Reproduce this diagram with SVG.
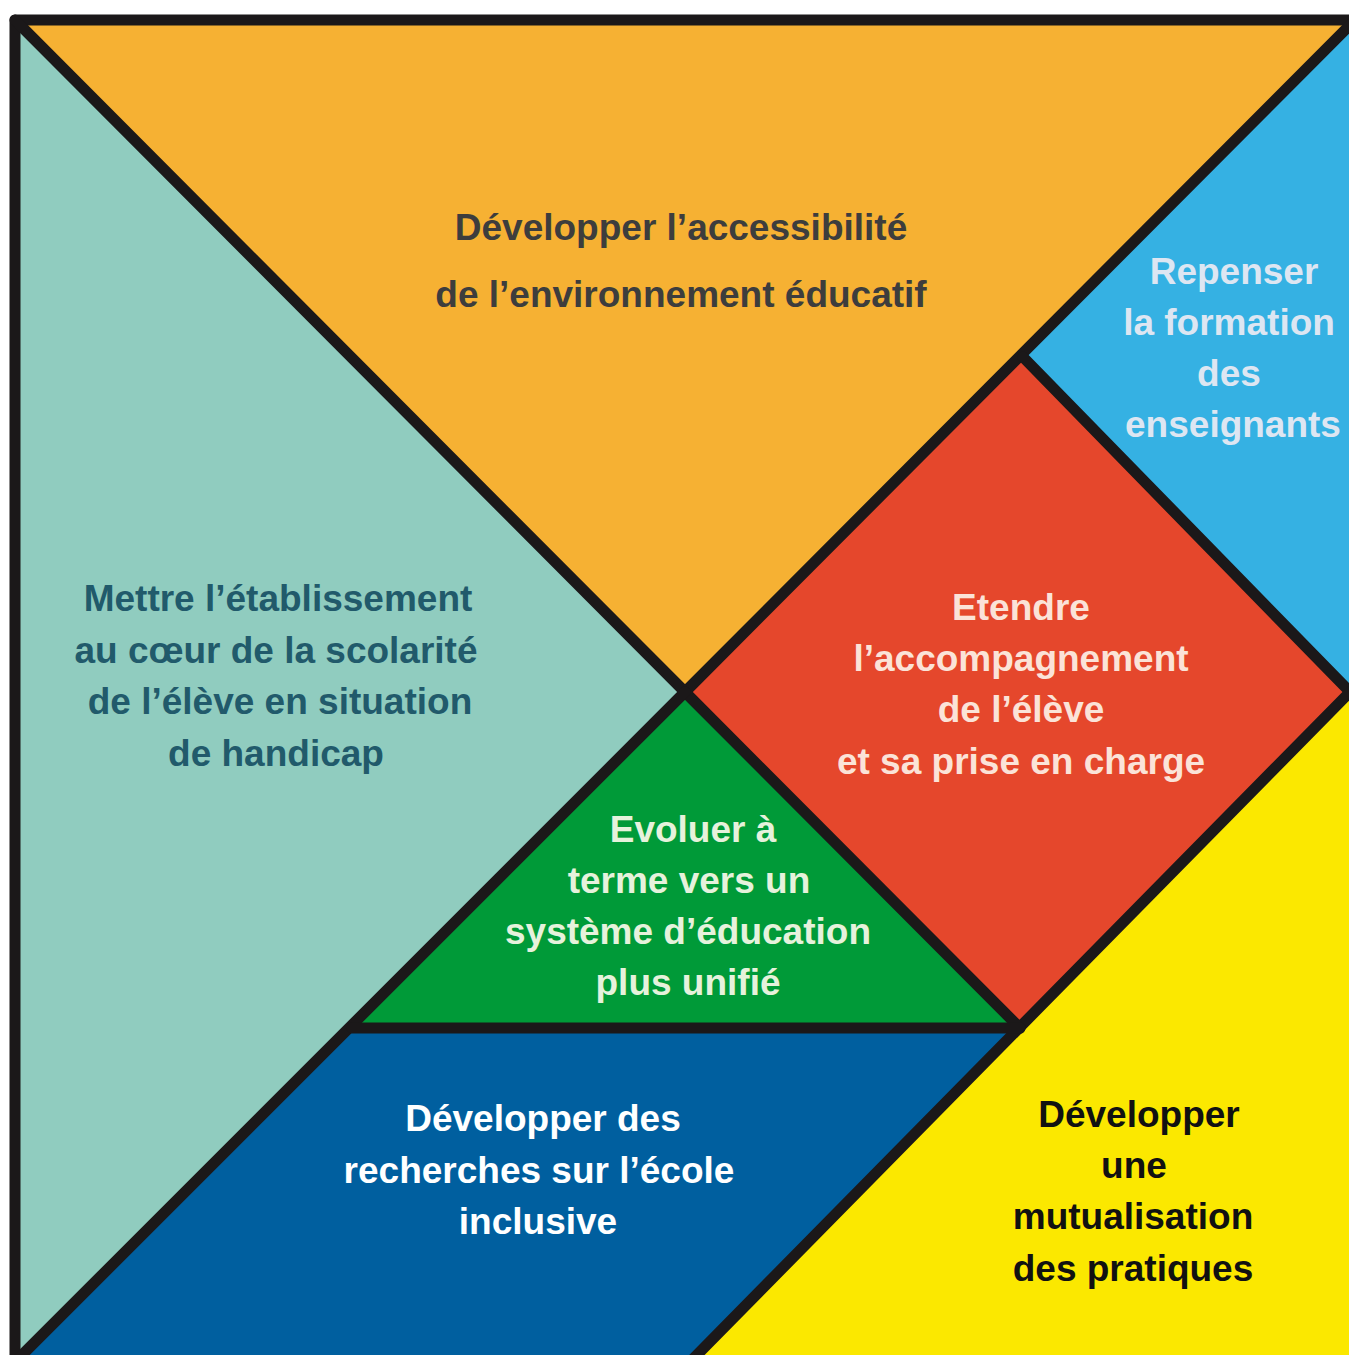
<svg xmlns="http://www.w3.org/2000/svg" width="1349" height="1355" viewBox="0 0 1349 1355">
<style>
  text { font-family: "Liberation Sans", Arial, sans-serif; font-weight: bold; font-size: 37px; text-anchor: middle; }
  .edge { stroke: #1b1819; stroke-width: 11; stroke-linecap: round; stroke-linejoin: round; fill: none; }
</style>
<rect x="0" y="0" width="1349" height="1355" fill="#ffffff"/>
<g id="orange">
  <polygon points="15,20 1352,20 685,692" fill="#F6B133"/>
  <text fill="#3d3d3d"><tspan x="681" y="240">Développer l’accessibilité</tspan><tspan x="681" y="307">de l’environnement éducatif</tspan></text>
</g>
<g id="teal">
  <polygon points="15,20 685,692 18,1360 15,1360" fill="#90CCBF"/>
  <text fill="#215a6b"><tspan x="278" y="611">Mettre l’établissement</tspan><tspan x="276" y="663">au cœur de la scolarité</tspan><tspan x="280" y="714">de l’élève en situation</tspan><tspan x="276" y="766">de handicap</tspan></text>
</g>
<g id="lightblue">
  <polygon points="1352,20 1360,20 1360,692 1350,692 1023,357" fill="#35B1E3"/>
  <text fill="#dde6f2"><tspan x="1234" y="284">Repenser</tspan><tspan x="1229" y="335">la formation</tspan><tspan x="1229" y="386">des</tspan><tspan x="1233" y="437">enseignants</tspan></text>
</g>
<g id="red">
  <polygon points="1023,357 1350,692 1020,1028 685,692" fill="#E5472C"/>
  <text fill="#fbe3d8"><tspan x="1021" y="620">Etendre</tspan><tspan x="1021" y="671">l’accompagnement</tspan><tspan x="1021" y="722">de l’élève</tspan><tspan x="1021" y="774">et sa prise en charge</tspan></text>
</g>
<g id="yellow">
  <polygon points="1350,692 1360,692 1360,1360 690,1360" fill="#FBE800"/>
  <text fill="#111111"><tspan x="1139" y="1127">Développer</tspan><tspan x="1134" y="1178">une</tspan><tspan x="1133" y="1229">mutualisation</tspan><tspan x="1133" y="1281">des pratiques</tspan></text>
</g>
<g id="green">
  <polygon points="685,692 1020,1028 349,1028" fill="#009A38"/>
  <text fill="#e6f2dc"><tspan x="693" y="842">Evoluer à</tspan><tspan x="689" y="893">terme vers un</tspan><tspan x="688" y="944">système d’éducation</tspan><tspan x="688" y="995">plus unifié</tspan></text>
</g>
<g id="darkblue">
  <polygon points="349,1028 1020,1028 690,1360 15,1360" fill="#005F9F"/>
  <text fill="#ffffff"><tspan x="543" y="1131">Développer des</tspan><tspan x="539" y="1183">recherches sur l’école</tspan><tspan x="538" y="1234">inclusive</tspan></text>
</g>
<g id="connectors">
  <polyline class="edge" points="1365,20 15,20 15,1365"/>
  <line class="edge" x1="15" y1="20" x2="685" y2="692"/>
  <line class="edge" x1="1355" y1="20" x2="685" y2="692"/>
  <line class="edge" x1="1023" y1="357" x2="1350" y2="692"/>
  <line class="edge" x1="1350" y1="692" x2="690" y2="1362"/>
  <line class="edge" x1="685" y1="692" x2="1020" y2="1028"/>
  <line class="edge" x1="685" y1="692" x2="15" y2="1362"/>
  <line class="edge" x1="352" y1="1028" x2="1020" y2="1028"/>
</g>
</svg>
